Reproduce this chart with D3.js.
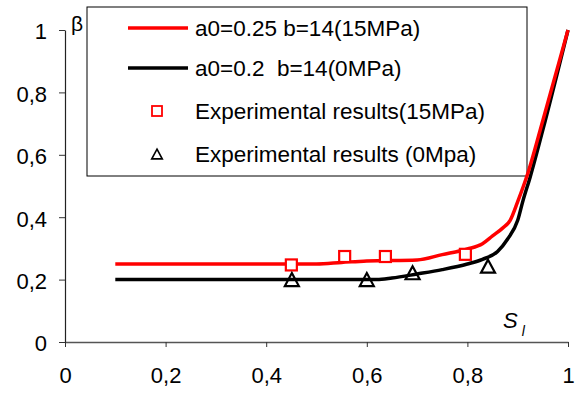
<!DOCTYPE html>
<html>
<head>
<meta charset="utf-8">
<script src="https://cdn.jsdelivr.net/npm/d3@7"></script>
<style>
body { margin: 0; background: #fff; }
svg text { font-family: "Liberation Sans", Arial, sans-serif; }
</style>
</head>
<body>
<script>
// 曲线数据 (S_l, beta)
var redCurveS = [0.1, 0.3, 0.5, 0.55, 0.6, 0.7, 0.75, 0.8, 0.83, 0.85, 0.87, 0.885, 0.9, 0.92, 0.95, 1];
var redCurveB = [0.25, 0.25, 0.25, 0.255, 0.26, 0.263, 0.28, 0.298, 0.315, 0.34, 0.365, 0.39, 0.45, 0.54, 0.71, 1];
var blackCurveS = [0.1, 0.3, 0.5, 0.62, 0.65, 0.7, 0.75, 0.8, 0.83, 0.86, 0.88, 0.9, 0.91, 0.925, 0.95, 1];
var blackCurveB = [0.2, 0.2, 0.2, 0.2, 0.205, 0.218, 0.232, 0.25, 0.265, 0.29, 0.33, 0.39, 0.45, 0.53, 0.68, 1];
// 实验点
var expRedS = [0.45, 0.556, 0.637, 0.796];
var expRedB = [0.247, 0.274, 0.274, 0.281];
var expBlackS = [0.451, 0.6, 0.691, 0.841];
var expBlackB = [0.2, 0.2, 0.222, 0.243];
var tickVals = [0, 0.2, 0.4, 0.6, 0.8, 1];
var legendLabels = ["a0=0.25 b=14(15MPa)", "a0=0.2  b=14(0MPa)", "Experimental results(15MPa)", "Experimental results (0Mpa)"];

var svg = d3.select("body").append("svg").attr("width", 577).attr("height", 394);
var x = d3.scaleLinear().domain([0, 1]).range([65, 568]);
var y = d3.scaleLinear().domain([0, 1]).range([342, 30]);
var loc = d3.formatLocale({ decimal: ",", thousands: ".", grouping: [3], currency: ["", ""] });
var fmt = loc.format("~g");
var triPath = "M0,-6.5L7,6.5L-7,6.5Z"; // 三角形标记，以外框中心为原点

// 坐标轴
var gx = svg.append("g").attr("transform", "translate(0," + y(0) + ")")
    .call(d3.axisBottom(x).tickValues(tickVals).tickFormat(fmt).tickSizeInner(5).tickSizeOuter(0).tickPadding(20));
gx.select(".domain").attr("stroke", "#555").attr("stroke-width", 1.3);
gx.selectAll("line").attr("stroke", "#333");
gx.selectAll("text").attr("font-size", 22).attr("fill", "#000").attr("font-family", "Liberation Sans, Arial, sans-serif");

var gy = svg.append("g").attr("transform", "translate(" + x(0) + ",0)")
    .call(d3.axisLeft(y).tickValues(tickVals).tickFormat(fmt).tickSizeInner(6).tickSizeOuter(0).tickPadding(12));
gy.select(".domain").attr("stroke", "#222").attr("stroke-width", 1.2);
gy.selectAll("line").attr("stroke", "#333");
gy.selectAll("text").attr("font-size", 22).attr("fill", "#000").attr("dy", "0.4em").attr("font-family", "Liberation Sans, Arial, sans-serif");

// 轴标题
svg.append("text").attr("x", 71).attr("y", 31).attr("font-size", 21).text("β");
var sl = svg.append("text").attr("x", 503).attr("y", 328).attr("font-size", 22).attr("font-style", "italic");
sl.append("tspan").text("S");
sl.append("tspan").attr("dx", 4).attr("dy", 8).attr("font-size", 14).text("l");

// 图例
var lg = svg.append("g");
lg.append("rect").attr("x", 87).attr("y", 7).attr("width", 440).attr("height", 169)
    .attr("fill", "#fff").attr("stroke", "#000").attr("stroke-width", 1);
var rowY = [28, 68, 111, 154];
lg.append("line").attr("x1", 128).attr("x2", 188).attr("y1", rowY[0]).attr("y2", rowY[0]).attr("stroke", "#f00").attr("stroke-width", 3.5);
lg.append("line").attr("x1", 128).attr("x2", 188).attr("y1", rowY[1]).attr("y2", rowY[1]).attr("stroke", "#000").attr("stroke-width", 3.5);
lg.append("rect").attr("x", 152).attr("y", rowY[2] - 5).attr("width", 10).attr("height", 10)
    .attr("fill", "#fff").attr("stroke", "#f00").attr("stroke-width", 1.8);
lg.append("path").attr("transform", "translate(157," + rowY[3] + ") scale(0.75)")
    .attr("d", triPath)
    .attr("fill", "#fff").attr("stroke", "#000").attr("stroke-width", 2.2);
lg.selectAll("text.lab").data(legendLabels).enter().append("text")
    .attr("class", "lab")
    .attr("x", 195)
    .attr("y", function (d, i) { return rowY[i] + 7.5; })
    .attr("font-size", 22.5)
    .attr("xml:space", "preserve")
    .style("white-space", "pre")
    .text(function (d) { return d; });

// 曲线
var line = d3.line().x(function (d) { return x(d[0]); }).y(function (d) { return y(d[1]); }).curve(d3.curveMonotoneX);
var redPts = redCurveS.map(function (s, i) { return [s, redCurveB[i]]; });
var blackPts = blackCurveS.map(function (s, i) { return [s, blackCurveB[i]]; });
svg.append("path").attr("d", line(blackPts)).attr("fill", "none").attr("stroke", "#000").attr("stroke-width", 3.5);
svg.append("path").attr("d", line(redPts)).attr("fill", "none").attr("stroke", "#f00").attr("stroke-width", 3.5);

// 实验点
svg.selectAll("rect.sq").data(expRedS).enter().append("rect")
    .attr("class", "sq")
    .attr("x", function (d) { return x(d) - 5.5; })
    .attr("y", function (d, i) { return y(expRedB[i]) - 5.5; })
    .attr("width", 11).attr("height", 11)
    .attr("fill", "#fff").attr("stroke", "#f00").attr("stroke-width", 2.2);
svg.selectAll("path.tri").data(expBlackS).enter().append("path")
    .attr("class", "tri")
    .attr("transform", function (d, i) { return "translate(" + x(d) + "," + y(expBlackB[i]) + ")"; })
    .attr("d", triPath)
    .attr("fill", "none").attr("stroke", "#000").attr("stroke-width", 2.2);
</script>
</body>
</html>
